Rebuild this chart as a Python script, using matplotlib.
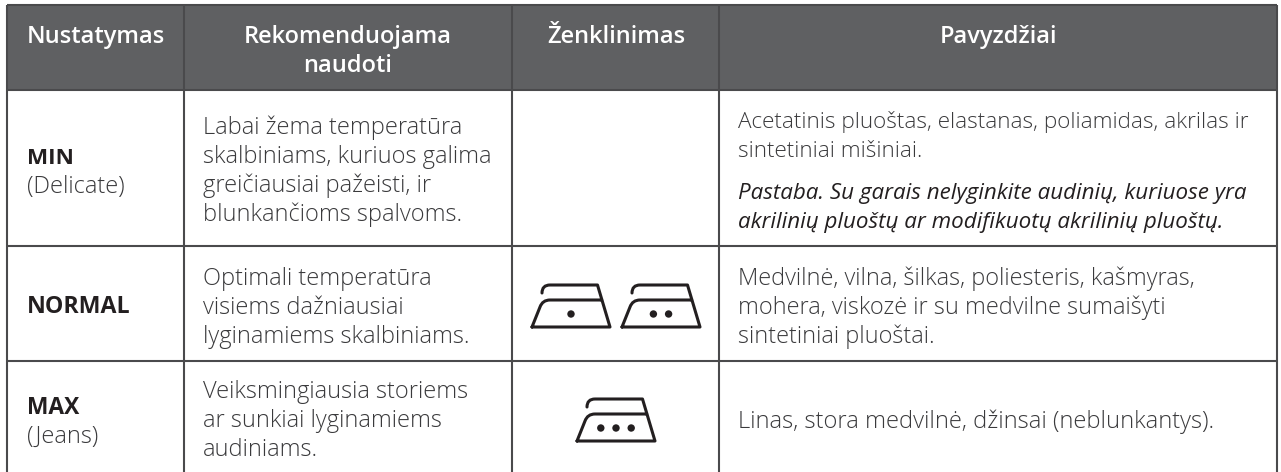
import matplotlib
matplotlib.use("Agg")
import matplotlib.pyplot as plt
from matplotlib.patches import Rectangle, Circle, PathPatch
from matplotlib.path import Path

headers = ["Nustatymas", "Rekomenduojama\nnaudoti", "Ženklinimas", "Pavyzdžiai"]
settings = ["MIN", "NORMAL", "MAX"]
setting_notes = ["(Delicate)", "", "(Jeans)"]
usage = [
    ["Labai žema temperatūra", "skalbiniams, kuriuos galima", "greičiausiai pažeisti, ir", "blunkančioms spalvoms."],
    ["Optimali temperatūra", "visiems dažniausiai", "lyginamiems skalbiniams."],
    ["Veiksmingiausia storiems", "ar sunkiai lyginamiems", "audiniams."],
]
examples = [
    ["Acetatinis pluoštas, elastanas, poliamidas, akrilas ir", "sintetiniai mišiniai."],
    ["Medvilnė, vilna, šilkas, poliesteris, kašmyras,", "mohera, viskozė ir su medvilne sumaišyti", "sintetiniai pluoštai."],
    ["Linas, stora medvilnė, džinsai (neblunkantys)."],
]
note = ["Pastaba. Su garais nelyginkite audinių, kuriuose yra", "akrilinių pluoštų ar modifikuotų akrilinių pluoštų."]
iron_dots = [1, 2, 3]

# table layout in image pixels
col_edges = [7, 184, 512, 719, 1277]
row_edges = [5, 90, 246, 361, 472]
header_x = [96, 348, 616, 998]
LINE_STEP = 29

LINE = "#4a4a4c"
TEXT = "#3a3a3c"
DARK = "#231f20"
FONT = "Open Sans"


def draw_iron(ax, x0, y0, dots):
    # x0, y0 is the bottom left corner of the sole
    verts = [(0, 0), (78, 0), (65.5, -42), (18, -42), (10, -42), (10, -34)]
    codes = [Path.MOVETO, Path.LINETO, Path.LINETO, Path.LINETO, Path.CURVE3, Path.CURVE3]
    verts += [(0, 0), (8, -20), (10.5, -27), (18, -27), (69.6, -27)]
    codes += [Path.MOVETO, Path.LINETO, Path.CURVE3, Path.CURVE3, Path.LINETO]
    verts = [(x0 + x, y0 + y) for x, y in verts]
    ax.add_patch(PathPatch(Path(verts, codes), fill=False, ec=DARK, lw=2.2,
                           capstyle="round", joinstyle="round"))
    cx = x0 + 39
    for i in range(dots):
        ax.add_patch(Circle((cx + (i - (dots - 1) / 2) * 15.2, y0 - 13), 3.7, color=DARK, lw=0))


fig = plt.figure(figsize=(12.81, 4.72), dpi=100)
ax = fig.add_axes([0, 0, 1, 1])
ax.set_xlim(0, 1281)
ax.set_ylim(472, 0)
ax.axis("off")

ax.add_patch(Rectangle((col_edges[0], row_edges[0]), col_edges[-1] - col_edges[0],
                       row_edges[1] - row_edges[0], color="#5f6062", lw=0))
for x in col_edges:
    ax.plot([x, x], [row_edges[0], row_edges[-1]], color=LINE, lw=1.5, solid_capstyle="butt")
for y in row_edges[:-1]:
    ax.plot([col_edges[0], col_edges[-1]], [y, y], color=LINE, lw=1.5, solid_capstyle="butt")

# header
for x, h in zip(header_x, headers):
    for i, part in enumerate(h.split("\n")):
        ax.text(x, 43 + i * LINE_STEP, part, color="white", family=FONT, weight="semibold",
                fontsize=17, ha="center", va="baseline")

# first column
setting_base = [164, 313, 414]
setting_size = [16.2, 16.7, 16.4]
for name, sub, y, size in zip(settings, setting_notes, setting_base, setting_size):
    ax.text(27, y, name, color=DARK, family=FONT, weight="bold", fontsize=size, va="baseline")
    if sub:
        ax.text(27, y + LINE_STEP, sub, color=TEXT, family=FONT, weight="light", fontsize=17, va="baseline")

# second column
usage_base = [134, 285, 398]
for lines, y in zip(usage, usage_base):
    for i, line in enumerate(lines):
        ax.text(203, y + i * LINE_STEP, line, color=TEXT, family=FONT, weight="light", fontsize=17, va="baseline")

# last column
example_base = [128, 285, 428]
example_size = [16.2, 16.9, 17.1]
for lines, y, size in zip(examples, example_base, example_size):
    for i, line in enumerate(lines):
        ax.text(738, y + i * LINE_STEP, line, color=TEXT, family=FONT, weight="light", fontsize=size, va="baseline")
for i, line in enumerate(note):
    ax.text(738, 199 + i * LINE_STEP, line, color=DARK, family=FONT, style="italic", fontsize=16.1, va="baseline")

# irons in the marking column
draw_iron(ax, 532, 327, iron_dots[0])
draw_iron(ax, 622, 327, iron_dots[1])
draw_iron(ax, 577, 441, iron_dots[2])

fig.savefig("out.png", dpi=100)
